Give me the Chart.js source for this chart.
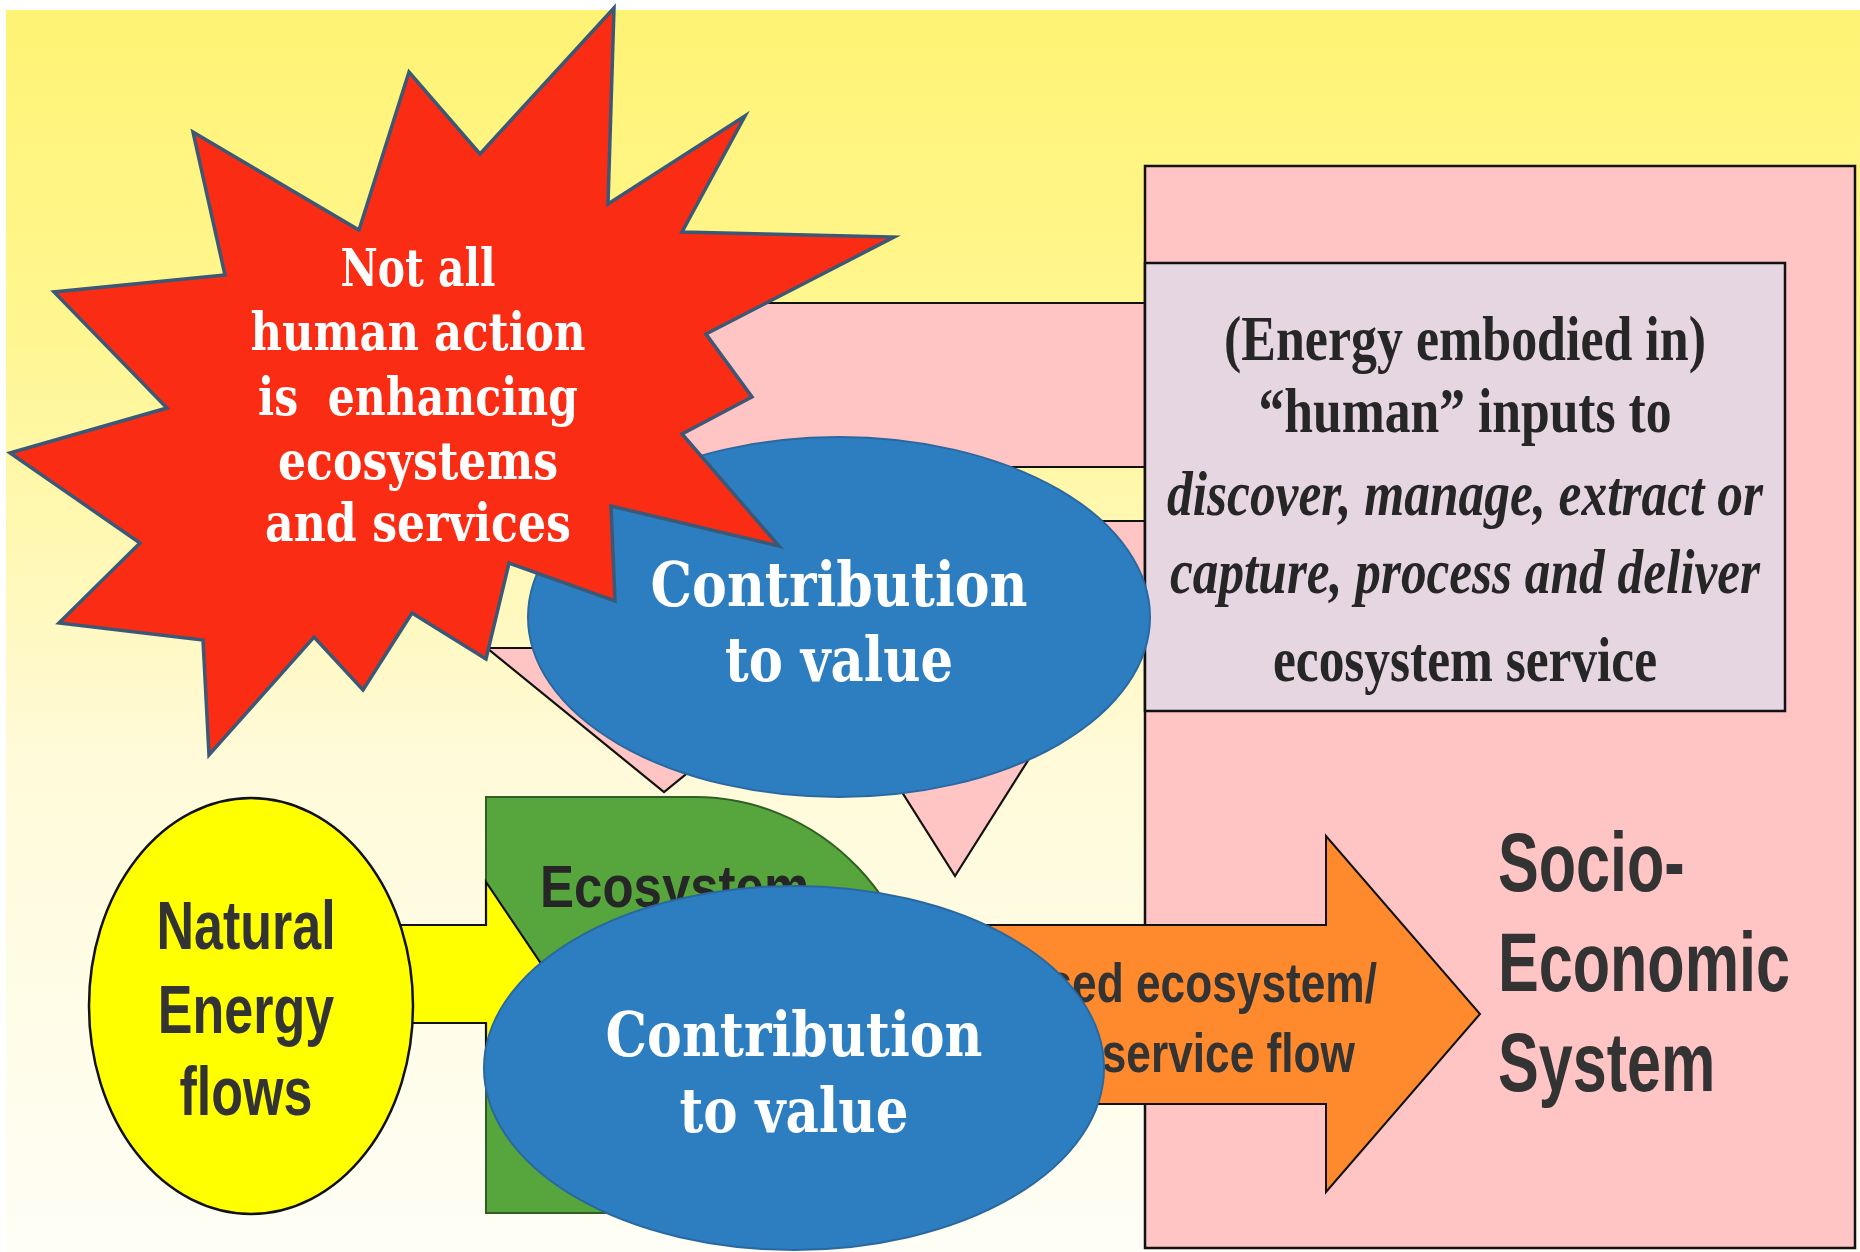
<!DOCTYPE html>
<html><head><meta charset="utf-8">
<script src="https://cdn.jsdelivr.net/npm/chart.js@4.4.1/dist/chart.umd.min.js"></script>
<style>html,body{margin:0;padding:0;background:#fff;overflow:hidden}#c{display:block}</style>
</head><body>
<canvas id="c" width="1860" height="1252"></canvas>
<script>
// ---------- DATA (diagram units on the chart's linear scales: x 0..1860, y 0..1252) ----------
const starburstPoints = [[614,8],[608,204],[745,116],[682,232],[894,237],[706,334],[752,397],[682,434],[779,546],[611,506],[615,601],[509,563],[486,659],[412,613],[363,690],[314,637],[209,755],[203,640],[59,623],[140,543],[10,453],[167,408],[54,292],[225,275],[193,132],[359,230],[409,72],[480,154]];
const pinkArrowUpper = [[1160,303],[582,303],[582,648],[487,648],[664,792],[841,648],[746,648],[746,467],[1160,467]];
const pinkArrowLower = [[1160,521],[895,521],[895,686],[835,686],[955,876],[1075,686],[1015,686],[1015,641],[1160,641]];
const orangeArrow = [[950,925],[1326,925],[1326,836],[1480,1014],[1326,1192],[1326,1104],[950,1104]];
const yellowArrow = [[330,925],[486,925],[486,882],[548,974],[486,1066],[486,1023],[330,1023]];
const socioBox = [1145,166,1855,1248];          // x0,y0,x1,y1
const humanInputBox = [1145,263,1785,711];
const ecosystemShape = [486,797,925,1213,230,240]; // x0,y0,x1,y1,corner rx,ry
const upperEllipse = [839,617,311,180];          // cx,cy,rx,ry
const lowerEllipse = [794,1068,310,182];
const naturalEllipse = [251,1006,162,208];

const starburstLines = ["Not all","human action","is  enhancing","ecosystems","and services"];
const contributionLines = ["Contribution","to value"];
const humanInputLines = ["(Energy embodied in)","\u201Chuman\u201D inputs to","discover, manage, extract or","capture, process and deliver","ecosystem service"];
const socioLines = ["Socio-","Economic","System"];
const naturalLines = ["Natural","Energy","flows"];
const flowLines = ["Realised ecosystem/","service flow"];
const ecosystemLines = ["Ecosystem","stocks"];

// ---------- LAYOUT / STYLE ----------
const STYLE = {
  star: {font:'bold 52px "DejaVu Serif"', color:'#ffffff', x:418, base:[286,350,415,479,541], w:[155,335,320,280,306]},
  contribUpper: {font:'bold 62px "DejaVu Serif"', color:'#ffffff', x:839, base:[606,681], w:[377,228]},
  contribLower: {font:'bold 62px "DejaVu Serif"', color:'#ffffff', x:794, base:[1056,1132], w:[377,229]},
  human: {fonts:['bold 64px "Liberation Serif"','bold 64px "Liberation Serif"','italic bold 64px "Liberation Serif"','italic bold 64px "Liberation Serif"','bold 64px "Liberation Serif"'], color:'#262626', x:1465, base:[360,432,515,593,681], w:[482,413,596,590,384]},
  socio: {font:'bold 83px "Liberation Sans"', color:'#333333', x:1498, base:[891,991,1091], scale:0.736},
  natural: {font:'bold 68px "Liberation Sans"', color:'#333333', x:246, base:[949,1033,1115], scale:0.765},
  flow: {font:'bold 56px "Liberation Sans"', color:'#333333', xr:[1377,1355], base:[1002,1072], scale:0.79},
  eco: {font:'bold 60px "Liberation Sans"', color:'#262626', x:540, base:[907,990], scale:0.85}
};

const diagramPlugin = {
  id: 'diagram',
  beforeDatasetsDraw(chart) {
    const ctx = chart.ctx;
    const sx = chart.scales.x, sy = chart.scales.y;
    const X = v => sx.getPixelForValue(v);
    const Y = v => sy.getPixelForValue(v);
    const W = v => sx.getPixelForValue(v) - sx.getPixelForValue(0);
    const H = v => Math.abs(sy.getPixelForValue(v) - sy.getPixelForValue(0));

    function poly(pts, fill, stroke, lw) {
      ctx.beginPath();
      pts.forEach((p, i) => i ? ctx.lineTo(X(p[0]), Y(p[1])) : ctx.moveTo(X(p[0]), Y(p[1])));
      ctx.closePath();
      ctx.fillStyle = fill; ctx.fill();
      if (stroke) { ctx.lineJoin = 'miter'; ctx.miterLimit = 20; ctx.strokeStyle = stroke; ctx.lineWidth = lw; ctx.stroke(); }
    }
    function rect(b, fill, stroke, lw) {
      poly([[b[0],b[1]],[b[2],b[1]],[b[2],b[3]],[b[0],b[3]]], fill, stroke, lw);
    }
    function ellipse(e, fill, stroke, lw) {
      ctx.beginPath();
      ctx.ellipse(X(e[0]), Y(e[1]), W(e[2]), H(e[3]), 0, 0, Math.PI * 2);
      ctx.fillStyle = fill; ctx.fill();
      if (stroke) { ctx.strokeStyle = stroke; ctx.lineWidth = lw; ctx.stroke(); }
    }
    function text(str, x, y, font, color, align, width, scale) {
      ctx.save();
      ctx.font = font; ctx.fillStyle = color; ctx.textBaseline = 'alphabetic'; ctx.textAlign = align;
      const m = ctx.measureText(str).width;
      const s = width ? W(width) / m : (scale || 1);
      ctx.translate(X(x), Y(y)); ctx.scale(s, 1);
      ctx.fillText(str, 0, 0);
      ctx.restore();
    }

    // background
    const g = ctx.createLinearGradient(0, Y(10), 0, Y(1252));
    g.addColorStop(0, '#fff374');
    g.addColorStop(0.25, '#fff68f');
    g.addColorStop(0.45, '#fff8b8');
    g.addColorStop(0.6, '#fffad8');
    g.addColorStop(1, '#fffef6');
    ctx.fillStyle = '#ffffff'; ctx.fillRect(X(0), Y(0), W(1860), H(1252));
    ctx.fillStyle = g; ctx.fillRect(X(6), Y(10), W(1854), H(1242));

    // pink feedback arrows (behind the boxes they start from)
    poly(pinkArrowUpper, '#ffc4c4', '#111', 2.2);
    poly(pinkArrowLower, '#ffc4c4', '#111', 2.2);

    // socio-economic box + human inputs box
    rect(socioBox, '#ffc4c4', '#111', 2.5);
    rect(humanInputBox, '#e6d6e2', '#111', 2.5);
    const hs = STYLE.human;
    humanInputLines.forEach((t, i) => text(t, hs.x, hs.base[i], hs.fonts[i], hs.color, 'center', hs.w[i]));
    const ss = STYLE.socio;
    socioLines.forEach((t, i) => text(t, ss.x, ss.base[i], ss.font, ss.color, 'left', null, ss.scale));

    // ecosystem shape
    const [ex0, ey0, ex1, ey1, crx, cry] = ecosystemShape;
    ctx.beginPath();
    ctx.moveTo(X(ex0), Y(ey0));
    ctx.lineTo(X(ex1 - crx), Y(ey0));
    ctx.ellipse(X(ex1 - crx), Y(ey0 + cry), W(crx), H(cry), 0, -Math.PI / 2, 0);
    ctx.lineTo(X(ex1), Y(ey1));
    ctx.lineTo(X(ex0), Y(ey1));
    ctx.closePath();
    ctx.fillStyle = '#56a63d'; ctx.fill();
    ctx.strokeStyle = '#2f5f25'; ctx.lineWidth = 2; ctx.stroke();
    const es = STYLE.eco;
    ecosystemLines.forEach((t, i) => text(t, es.x, es.base[i], es.font, es.color, 'left', null, es.scale));

    // natural energy arrow + ellipse
    poly(yellowArrow, '#ffff00', '#111', 2.2);
    ellipse(naturalEllipse, '#ffff00', '#111', 2.5);
    const ns = STYLE.natural;
    naturalLines.forEach((t, i) => text(t, ns.x, ns.base[i], ns.font, ns.color, 'center', null, ns.scale));

    // upper contribution ellipse
    ellipse(upperEllipse, '#2d7ec0', '#2a68a0', 2);
    const cu = STYLE.contribUpper;
    contributionLines.forEach((t, i) => text(t, cu.x, cu.base[i], cu.font, cu.color, 'center', cu.w[i]));

    // starburst
    poly(starburstPoints, '#fb2c14', '#3b5876', 3.5);
    const st = STYLE.star;
    starburstLines.forEach((t, i) => text(t, st.x, st.base[i], st.font, st.color, 'center', st.w[i]));

    // orange service flow arrow
    poly(orangeArrow, '#ff8a2e', '#111', 2);
    const fs = STYLE.flow;
    flowLines.forEach((t, i) => text(t, fs.xr[i], fs.base[i], fs.font, fs.color, 'right', null, fs.scale));

    // lower contribution ellipse
    ellipse(lowerEllipse, '#2d7ec0', '#2a68a0', 2);
    const cl = STYLE.contribLower;
    contributionLines.forEach((t, i) => text(t, cl.x, cl.base[i], cl.font, cl.color, 'center', cl.w[i]));
  }
};

new Chart(document.getElementById('c'), {
  type: 'scatter',
  data: { datasets: [] },
  options: {
    responsive: false, animation: false, devicePixelRatio: 1,
    layout: { padding: 0 },
    plugins: { legend: { display: false }, tooltip: { enabled: false } },
    scales: {
      x: { type: 'linear', min: 0, max: 1860, display: false },
      y: { type: 'linear', min: 0, max: 1252, reverse: true, display: false }
    }
  },
  plugins: [diagramPlugin]
});
</script>
</body></html>
